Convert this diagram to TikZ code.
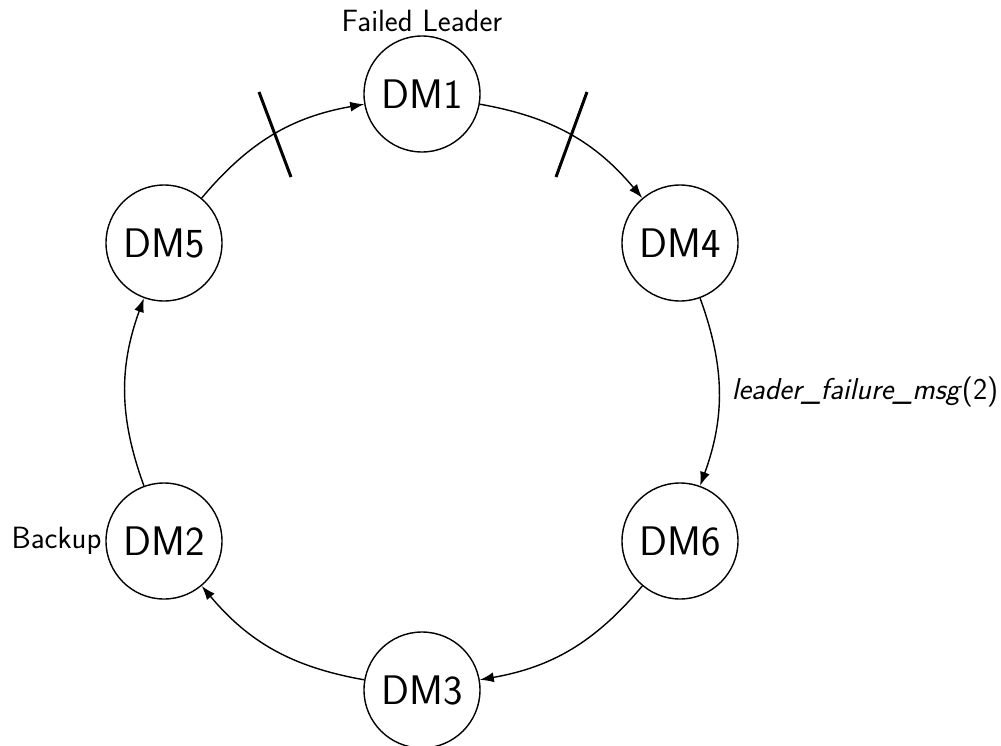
\documentclass[tikz,border=0pt]{standalone}
\usetikzlibrary{positioning, arrows.meta, calc}

\begin{document}
\begin{tikzpicture}[
    font=\sffamily,
    dm/.style={circle, draw, line width=0.8pt, minimum size=2.32cm, inner sep=0pt, font=\sffamily\fontsize{23.5}{28}\selectfont},
    lbl/.style={inner sep=2pt, font=\sffamily\fontsize{17.5}{21}\selectfont},
    msg/.style={->, >={Latex[length=2.8mm,width=2mm]}, line width=0.8pt},
    cut/.style={line width=1.7pt}
]
\useasboundingbox (0,0) rectangle (20.02,-14.92);

% ring of decision makers
\coordinate (ring) at (8.44,-7.84);
\node (dm1) [dm] at (8.44,-1.88) {DM1};
\node (dm4) [dm] at (13.60,-4.86) {DM4};
\node (dm6) [dm] at (13.60,-10.82) {DM6};
\node (dm3) [dm] at (8.44,-13.80) {DM3};
\node (dm2) [dm] at (3.28,-10.82) {DM2};
\node (dm5) [dm] at (3.28,-4.86) {DM5};

% roles
\node (failed) [lbl, above=0pt of dm1] {Failed Leader};
\node (backup) [lbl, left=0pt of dm2] {Backup};

% messages
\draw [msg] (dm1) to[bend left=20] (dm4);
\draw [msg] (dm4) to[bend left=20] node[right, inner sep=7pt, font=\sffamily\fontsize{17.2}{20}\selectfont] {\textit{leader\_failure\_msg}(2)} (dm6);
\draw [msg] (dm6) to[bend left=20] (dm3);
\draw [msg] (dm3) to[bend left=20] (dm2);
\draw [msg] (dm2) to[bend left=20] (dm5);
\draw [msg] (dm5) to[bend left=20] (dm1);

% broken links
\draw [cut] (5.82,-3.54) -- (5.18,-1.84);
\draw [cut] (11.12,-3.54) -- (11.74,-1.84);

\end{tikzpicture}
\end{document}
